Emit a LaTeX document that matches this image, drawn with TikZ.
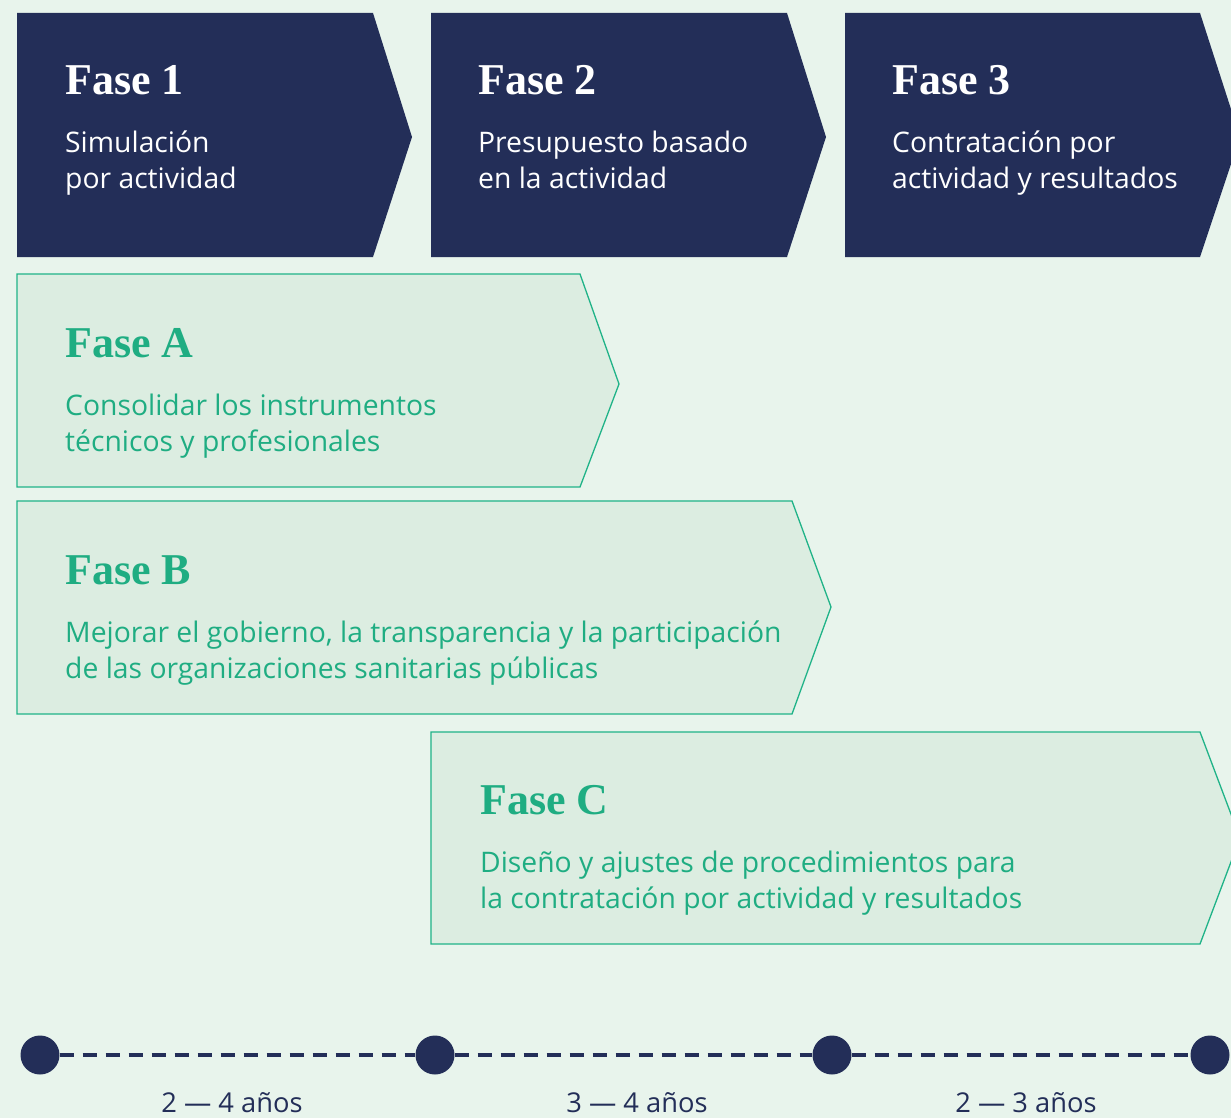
\documentclass[tikz,border=0pt]{standalone}
\usepackage{fontspec}
\setmainfont{Open Sans}
\newfontfamily\headfont{Liberation Serif}
\definecolor{navy}{HTML}{232E58}
\definecolor{bgc}{HTML}{E8F4EC}
\definecolor{lightg}{HTML}{DCEDE1}
\definecolor{greenc}{HTML}{20B388}
\definecolor{greentx}{HTML}{1FAD82}
\tikzset{
  darkbox/.style={fill=navy, draw=none},
  lightbox/.style={fill=lightg, draw=greenc, line width=1.3pt, line join=miter},
  headtxt/.style={anchor=base west, inner sep=0pt, font=\headfont\bfseries\fontsize{44}{44}\selectfont},
  subtxt/.style={anchor=base west, inner sep=0pt, align=left, font=\fontsize{28.3}{36}\selectfont},
  dot/.style={circle, fill=navy, minimum size=39pt, inner sep=0pt},
  durtxt/.style={anchor=base, inner sep=0pt, text=navy, font=\fontsize{27.3}{27.3}\selectfont},
  dashline/.style={draw=navy, line width=4.5pt, dash pattern=on 14pt off 9pt}
}
\begin{document}
\begin{tikzpicture}[x=1pt,y=-1pt]
\useasboundingbox (0,0) rectangle (1231,1118);
\fill[bgc] (0,0) rectangle (1231,1118);
\begin{scope}
\clip (0,0) rectangle (1231,1118);
% top dark chevrons
\path[darkbox] (17,13) -- (373,13) -- (412,137) -- (373,257) -- (17,257) -- cycle;
\path[darkbox] (431,13) -- (787,13) -- (826,137) -- (787,257) -- (431,257) -- cycle;
\path[darkbox] (845,13) -- (1200,13) -- (1240,137) -- (1200,257) -- (845,257) -- cycle;
% light chevrons
\path[lightbox] (17,274) -- (580,274) -- (619,384) -- (580,487) -- (17,487) -- cycle;
\path[lightbox] (17,501) -- (792,501) -- (831,607) -- (792,714) -- (17,714) -- cycle;
\path[lightbox] (431,732) -- (1200,732) -- (1240,838) -- (1200,944) -- (431,944) -- cycle;
\end{scope}
% texts (subtitle anchors sit on the baseline of the last line)
\node[headtxt, text=white] (h1) at (65,95) {Fase 1};
\node[subtxt, text=white] (s1) at (65,189) {Simulación\\por actividad};
\node[headtxt, text=white] (h2) at (478,95) {Fase 2};
\node[subtxt, text=white] (s2) at (478,189) {Presupuesto basado\\en la actividad};
\node[headtxt, text=white] (h3) at (892,95) {Fase 3};
\node[subtxt, text=white] (s3) at (892,189) {Contratación por\\actividad y resultados};
\node[headtxt, text=greentx] (ha) at (65,357) {Fase A};
\node[subtxt, text=greentx] (sa) at (65,451) {Consolidar los instrumentos\\técnicos y profesionales};
\node[headtxt, text=greentx] (hb) at (65,584) {Fase B};
\node[subtxt, text=greentx] (sb) at (65,678) {Mejorar el gobierno, la transparencia y la participación\\de las organizaciones sanitarias públicas};
\node[headtxt, text=greentx] (hc) at (480,814) {Fase C};
\node[subtxt, text=greentx] (sc) at (480,908) {Diseño y ajustes de procedimientos para\\la contratación por actividad y resultados};
% timeline
\node[dot] (d1) at (40,1055) {};
\node[dot] (d2) at (435,1055) {};
\node[dot] (d3) at (832,1055) {};
\node[dot] (d4) at (1210,1055) {};
\draw[dashline] (d1.east) -- (d2.west);
\draw[dashline] (d2.east) -- (d3.west);
\draw[dashline] (d3.east) -- (d4.west);
\node[durtxt] (t1) at (232,1112) {2 — 4 años};
\node[durtxt] (t2) at (637,1112) {3 — 4 años};
\node[durtxt] (t3) at (1026,1112) {2 — 3 años};
\end{tikzpicture}
\end{document}
